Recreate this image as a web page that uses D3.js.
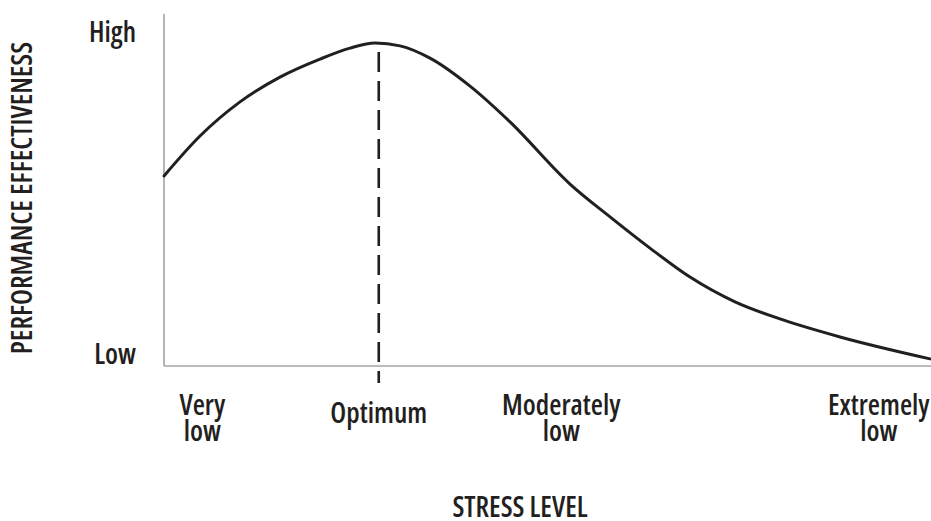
<!DOCTYPE html>
<html>
<head>
<meta charset="utf-8">
<script src="https://cdn.jsdelivr.net/npm/d3@7/dist/d3.min.js"></script>
<style>
  html, body { margin: 0; padding: 0; background: #fff; }
  text { font-family: "Open Sans", "Noto Sans", sans-serif; font-weight: 600; fill: #231f20; font-stretch: 87.5%; }
</style>
</head>
<body>
<svg id="chart" width="931" height="521"></svg>
<script>
// ---- data ----
const stress =      [0,    4.69, 9.91, 15.12, 20.34, 24.25, 27.51, 30.77, 34.68, 39.90, 45.11, 52.93, 58.15, 63.36, 68.58, 74.45, 80.31, 88.14, 99.87];
const performance = [55.6, 68.0, 78.6, 86.3,  91.9,  95.3,  96.9,  96.0,  92.2,  83.5,  72.4,  53.1,  42.9,  33.2,  24.2,  16.5,  11.2,  5.6,   -1.2];
const xTickLabels = [["Very", "low"], ["Optimum"], ["Moderately", "low"], ["Extremely", "low"]];
const xTickValues = [5.0, 28.0, 51.8, 93.2];
const yTickLabels = ["Low", "High"];
const yTickValues = [0, 100];
const optimumStress = 28.0;
const xTitle = "STRESS LEVEL";
const yTitle = "PERFORMANCE EFFECTIVENESS";

// ---- layout ----
const svg = d3.select("#chart");
const x = d3.scaleLinear().domain([0, 100]).range([164, 931]);
const y = d3.scaleLinear().domain([0, 100]).range([355, 33]);
const axisY = 366, axisTop = 14;
const ink = "#231f20";

// axes lines
svg.append("line").attr("x1", x(0)).attr("x2", x(0)).attr("y1", axisTop).attr("y2", axisY)
  .attr("stroke", "#a3a3a3").attr("stroke-width", 1.6);
svg.append("line").attr("x1", x(0)).attr("x2", x(100)).attr("y1", axisY).attr("y2", axisY)
  .attr("stroke", "#a3a3a3").attr("stroke-width", 1.6);

// dashed optimum line
svg.append("line").attr("x1", x(optimumStress)).attr("x2", x(optimumStress))
  .attr("y1", y(94.1)).attr("y2", 383)
  .attr("stroke", ink).attr("stroke-width", 2.6).attr("stroke-dasharray", "20,9");

// curve
const pts = stress.map((s, i) => [s, performance[i]]);
const line = d3.line().x(d => x(d[0])).y(d => y(d[1])).curve(d3.curveMonotoneX);
svg.append("path").datum(pts).attr("d", line)
  .attr("fill", "none").attr("stroke", ink).attr("stroke-width", 3).attr("stroke-linecap", "round");

// y tick labels
svg.selectAll(".ytick").data(yTickValues).enter().append("text")
  .attr("class", "ytick")
  .attr("x", 136).attr("y", d => y(d)).attr("dy", "0.33em")
  .attr("text-anchor", "end").attr("font-size", 28)
  .text((d, i) => yTickLabels[i]);

// x tick labels (one text element per line)
xTickValues.forEach((v, i) => {
  const lines = xTickLabels[i];
  lines.forEach((s, j) => {
    svg.append("text").attr("class", "xtick")
      .attr("text-anchor", "middle").attr("font-size", 28)
      .attr("x", x(v))
      .attr("y", (lines.length === 1 ? 423 : 415) + j * 26)
      .text(s);
  });
});

// axis titles
svg.append("text").attr("x", 520).attr("y", 517).attr("text-anchor", "middle")
  .attr("font-size", 28).text(xTitle);
svg.append("text").attr("transform", "translate(32,198) rotate(-90)")
  .attr("text-anchor", "middle").attr("font-size", 28).text(yTitle);
</script>
</body>
</html>
